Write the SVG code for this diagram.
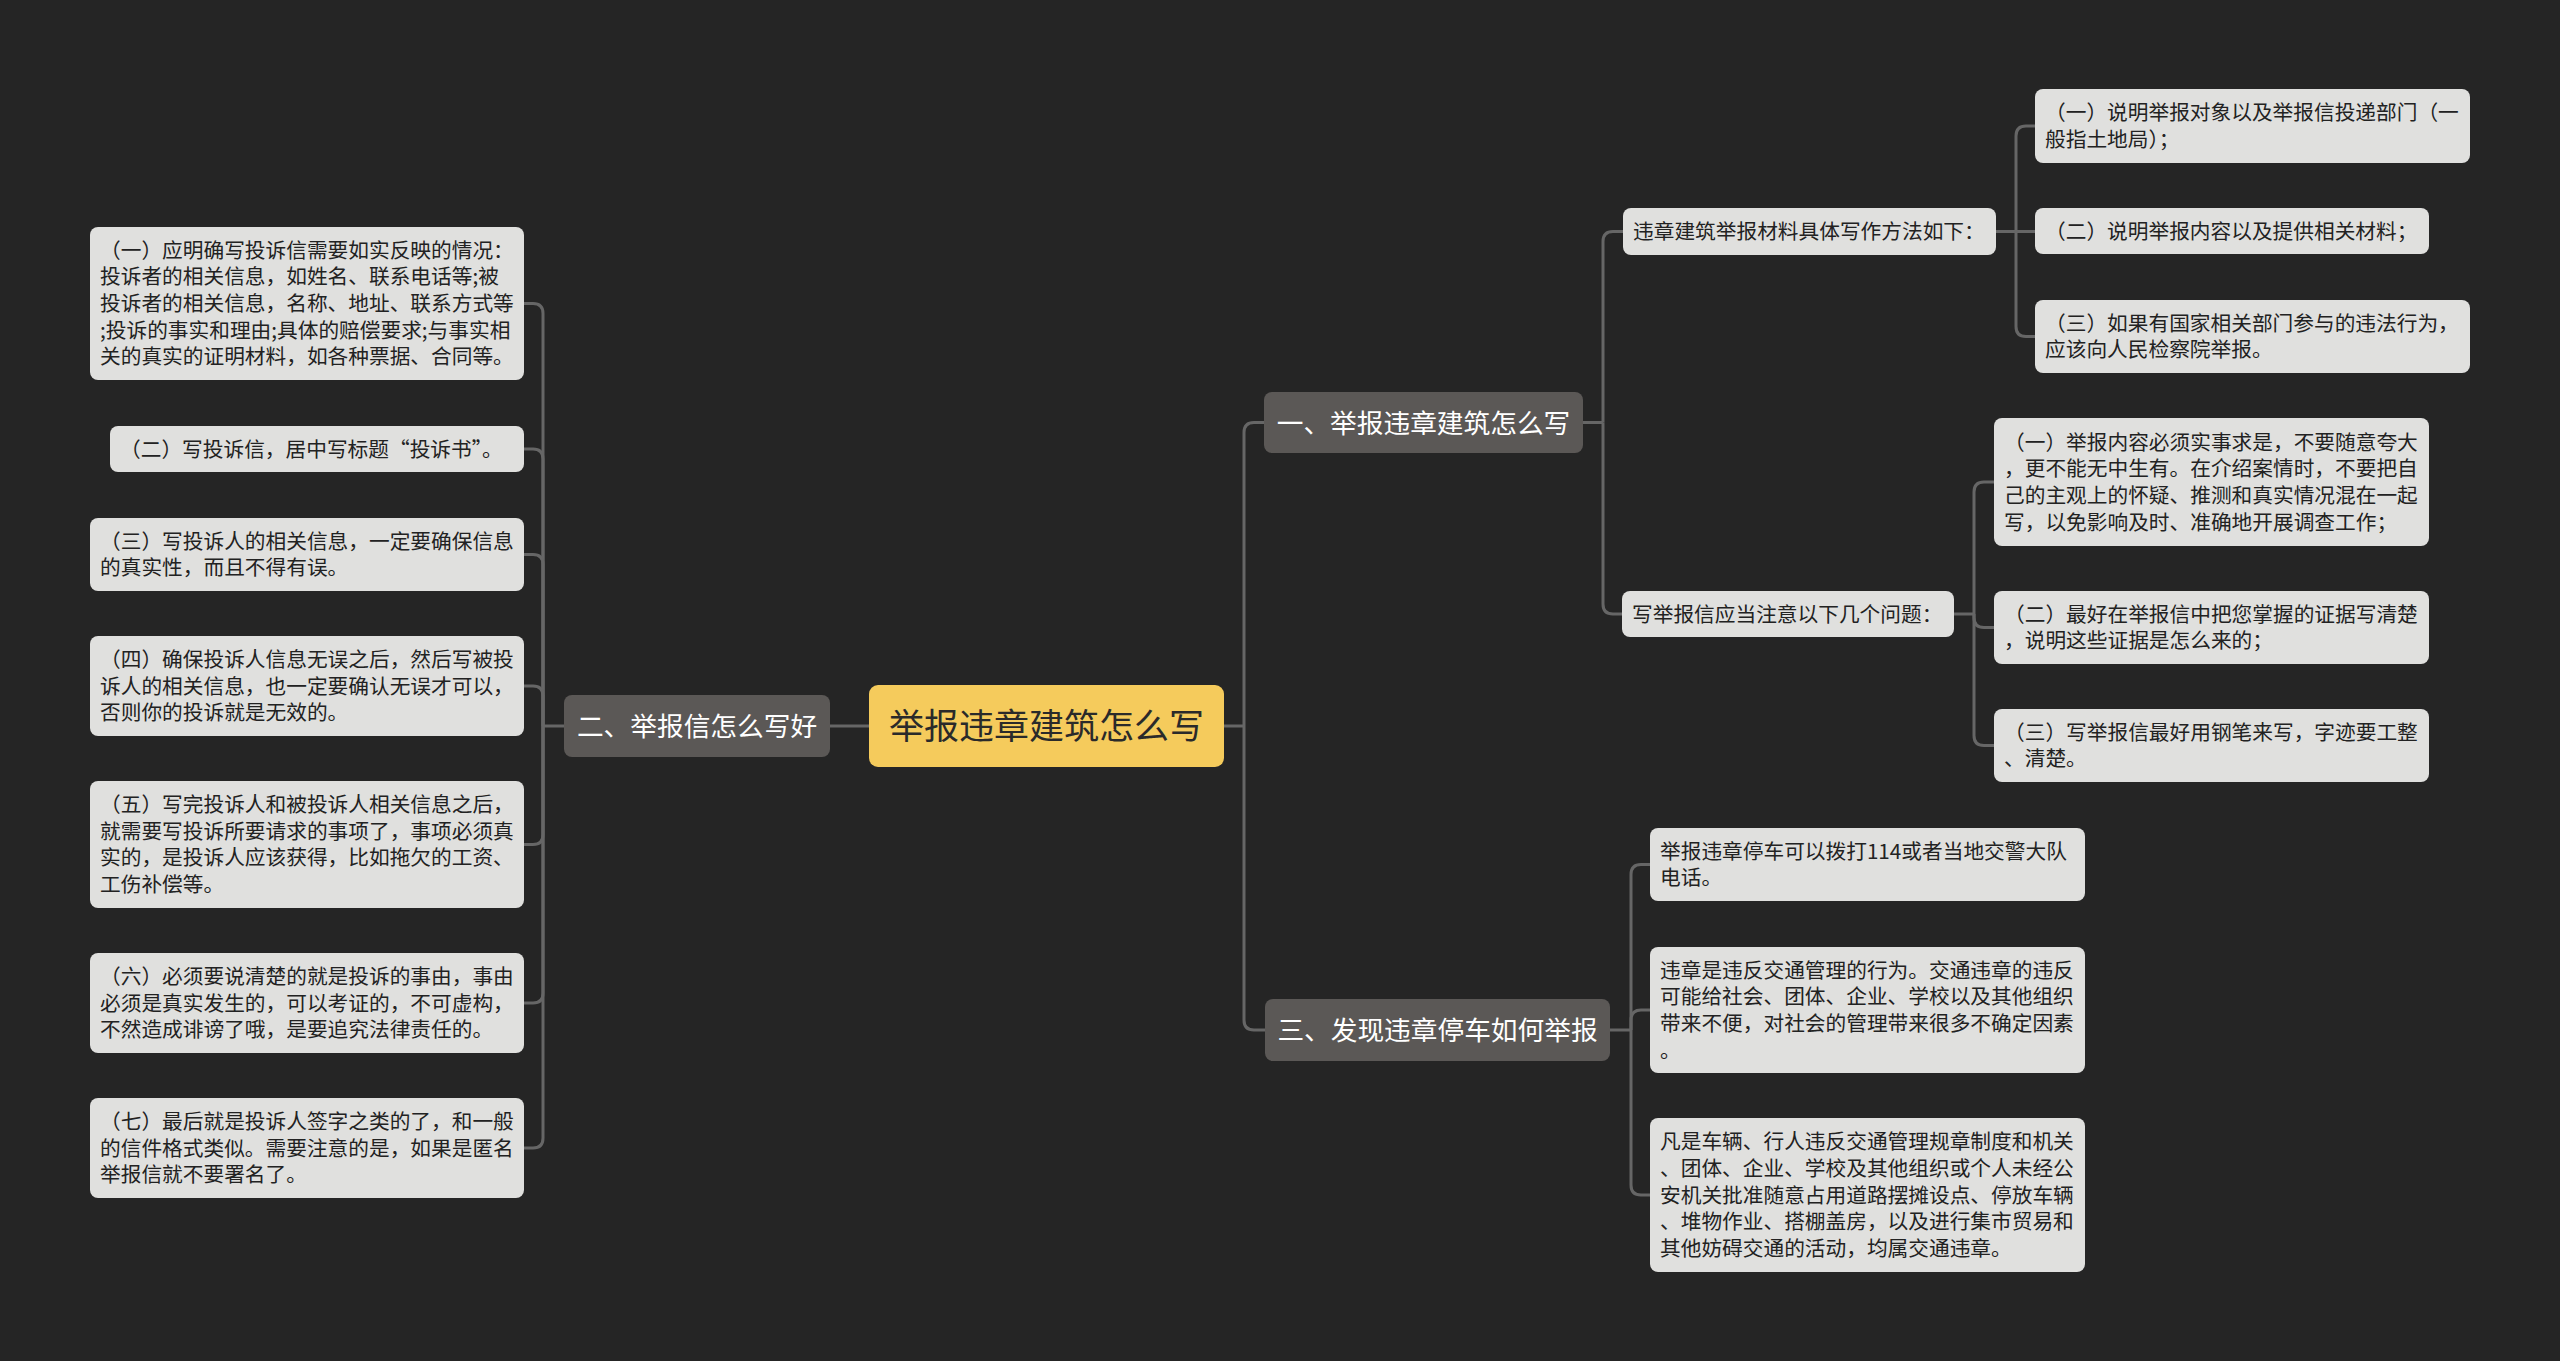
<svg xmlns="http://www.w3.org/2000/svg" width="2560" height="1361" viewBox="0 0 2560 1361">
<style>
.bg{fill:#252525}
.root rect{fill:#f5cb5c}
.root text{fill:#2a2a2a;font-size:35px;text-anchor:middle}
.l1 rect{fill:#5b5856}
.l1 text{fill:#ffffff;font-size:26.7px;text-anchor:middle}
.l2 rect{fill:#e0e0de}
.l2 text{fill:#222222;font-size:20.7px}
text{font-family:"Noto Sans CJK SC","Noto Sans",sans-serif}
.conn path{fill:none;stroke:#666666;stroke-width:3}
</style>
<rect class="bg" x="0" y="0" width="2560" height="1361"/>
<g class="conn">
<path d="M869,726 H830"/>
<path d="M564,726 H543"/>
<path d="M543,726 V313.5 Q543,303.5 533,303.5 H524"/>
<path d="M543,726 V459 Q543,449 533,449 H524"/>
<path d="M543,726 V564.5 Q543,554.5 533,554.5 H524"/>
<path d="M543,726 V696 Q543,686 533,686 H524"/>
<path d="M543,726 V834.5 Q543,844.5 533,844.5 H524"/>
<path d="M543,726 V993 Q543,1003 533,1003 H524"/>
<path d="M543,726 V1138 Q543,1148 533,1148 H524"/>
<path d="M1224,726 H1244"/>
<path d="M1244,726 V432.5 Q1244,422.5 1254,422.5 H1264"/>
<path d="M1244,726 V1020 Q1244,1030 1254,1030 H1265"/>
<path d="M1583,422.5 H1603"/>
<path d="M1603,422.5 V241.5 Q1603,231.5 1613,231.5 H1623"/>
<path d="M1603,422.5 V604 Q1603,614 1613,614 H1622"/>
<path d="M1996,231.5 H2035"/>
<path d="M2016,231.5 V136 Q2016,126 2026,126 H2035"/>
<path d="M2016,231.5 V326.5 Q2016,336.5 2026,336.5 H2035"/>
<path d="M1954,614 H1974"/>
<path d="M1974,614 V492 Q1974,482 1984,482 H1994"/>
<path d="M1974,614 V617.5 Q1974,627.5 1984,627.5 H1994"/>
<path d="M1974,614 V735.5 Q1974,745.5 1984,745.5 H1994"/>
<path d="M1610,1030 H1631"/>
<path d="M1631,1030 V874.5 Q1631,864.5 1641,864.5 H1650"/>
<path d="M1631,1030 V1020 Q1631,1010 1641,1010 H1650"/>
<path d="M1631,1030 V1185 Q1631,1195 1641,1195 H1650"/>
</g>
<g id="root" class="root">
<rect x="869" y="685" width="355" height="82" rx="9"/>
<text x="1046.5" y="739">举报违章建筑怎么写</text>
</g>
<g id="n2" class="l1">
<rect x="564" y="695" width="266" height="62" rx="8"/>
<text x="697" y="736">二、举报信怎么写好</text>
</g>
<g id="n1" class="l1">
<rect x="1264" y="392" width="319" height="61" rx="8"/>
<text x="1423.5" y="432.5">一、举报违章建筑怎么写</text>
</g>
<g id="n3" class="l1">
<rect x="1265" y="999" width="345" height="62" rx="8"/>
<text x="1437.5" y="1040">三、发现违章停车如何举报</text>
</g>
<g id="l2_1" class="l2">
<rect x="90" y="227" width="434" height="153" rx="8"/>
<text x="100" y="257.6"><tspan x="100">（一）应明确写投诉信需要如实反映的情况：</tspan><tspan x="100" y="284.3">投诉者的相关信息，如姓名、联系电话等;被</tspan><tspan x="100" y="311">投诉者的相关信息，名称、地址、联系方式等</tspan><tspan x="100" y="337.7">;投诉的事实和理由;具体的赔偿要求;与事实相</tspan><tspan x="100" y="364.4">关的真实的证明材料，如各种票据、合同等。</tspan></text>
</g>
<g id="l2_2" class="l2">
<rect x="110" y="426" width="414" height="46" rx="8"/>
<text x="120" y="456.5">（二）写投诉信，居中写标题“投诉书”。</text>
</g>
<g id="l2_3" class="l2">
<rect x="90" y="518" width="434" height="73" rx="8"/>
<text x="100" y="548.7"><tspan x="100">（三）写投诉人的相关信息，一定要确保信息</tspan><tspan x="100" y="575.4">的真实性，而且不得有误。</tspan></text>
</g>
<g id="l2_4" class="l2">
<rect x="90" y="636" width="434" height="100" rx="8"/>
<text x="100" y="666.8"><tspan x="100">（四）确保投诉人信息无误之后，然后写被投</tspan><tspan x="100" y="693.5">诉人的相关信息，也一定要确认无误才可以，</tspan><tspan x="100" y="720.2">否则你的投诉就是无效的。</tspan></text>
</g>
<g id="l2_5" class="l2">
<rect x="90" y="781" width="434" height="127" rx="8"/>
<text x="100" y="812"><tspan x="100">（五）写完投诉人和被投诉人相关信息之后，</tspan><tspan x="100" y="838.7">就需要写投诉所要请求的事项了，事项必须真</tspan><tspan x="100" y="865.4">实的，是投诉人应该获得，比如拖欠的工资、</tspan><tspan x="100" y="892.1">工伤补偿等。</tspan></text>
</g>
<g id="l2_6" class="l2">
<rect x="90" y="953" width="434" height="100" rx="8"/>
<text x="100" y="983.8"><tspan x="100">（六）必须要说清楚的就是投诉的事由，事由</tspan><tspan x="100" y="1010.5">必须是真实发生的，可以考证的，不可虚构，</tspan><tspan x="100" y="1037.2">不然造成诽谤了哦，是要追究法律责任的。</tspan></text>
</g>
<g id="l2_7" class="l2">
<rect x="90" y="1098" width="434" height="100" rx="8"/>
<text x="100" y="1128.8"><tspan x="100">（七）最后就是投诉人签字之类的了，和一般</tspan><tspan x="100" y="1155.5">的信件格式类似。需要注意的是，如果是匿名</tspan><tspan x="100" y="1182.2">举报信就不要署名了。</tspan></text>
</g>
<g id="r1a" class="l2">
<rect x="1623" y="208" width="373" height="47" rx="8"/>
<text x="1633" y="239">违章建筑举报材料具体写作方法如下：</text>
</g>
<g id="r1a_1" class="l2">
<rect x="2035" y="89" width="435" height="74" rx="8"/>
<text x="2045" y="120.2"><tspan x="2045">（一）说明举报对象以及举报信投递部门（一</tspan><tspan x="2045" y="146.9">般指土地局）；</tspan></text>
</g>
<g id="r1a_2" class="l2">
<rect x="2035" y="208" width="394" height="46" rx="8"/>
<text x="2045" y="238.5">（二）说明举报内容以及提供相关材料；</text>
</g>
<g id="r1a_3" class="l2">
<rect x="2035" y="300" width="435" height="73" rx="8"/>
<text x="2045" y="330.7"><tspan x="2045">（三）如果有国家相关部门参与的违法行为，</tspan><tspan x="2045" y="357.4">应该向人民检察院举报。</tspan></text>
</g>
<g id="r1b" class="l2">
<rect x="1622" y="591" width="332" height="46" rx="8"/>
<text x="1632" y="621.5">写举报信应当注意以下几个问题：</text>
</g>
<g id="r1b_1" class="l2">
<rect x="1994" y="418" width="435" height="128" rx="8"/>
<text x="2004" y="449.5"><tspan x="2004">（一）举报内容必须实事求是，不要随意夸大</tspan><tspan x="2004" y="476.2">，更不能无中生有。在介绍案情时，不要把自</tspan><tspan x="2004" y="502.9">己的主观上的怀疑、推测和真实情况混在一起</tspan><tspan x="2004" y="529.6">写，以免影响及时、准确地开展调查工作；</tspan></text>
</g>
<g id="r1b_2" class="l2">
<rect x="1994" y="591" width="435" height="73" rx="8"/>
<text x="2004" y="621.7"><tspan x="2004">（二）最好在举报信中把您掌握的证据写清楚</tspan><tspan x="2004" y="648.4">，说明这些证据是怎么来的；</tspan></text>
</g>
<g id="r1b_3" class="l2">
<rect x="1994" y="709" width="435" height="73" rx="8"/>
<text x="2004" y="739.7"><tspan x="2004">（三）写举报信最好用钢笔来写，字迹要工整</tspan><tspan x="2004" y="766.4">、清楚。</tspan></text>
</g>
<g id="r3_1" class="l2">
<rect x="1650" y="828" width="435" height="73" rx="8"/>
<text x="1660" y="858.7"><tspan x="1660">举报违章停车可以拨打114或者当地交警大队</tspan><tspan x="1660" y="885.4">电话。</tspan></text>
</g>
<g id="r3_2" class="l2">
<rect x="1650" y="947" width="435" height="126" rx="8"/>
<text x="1660" y="977.5"><tspan x="1660">违章是违反交通管理的行为。交通违章的违反</tspan><tspan x="1660" y="1004.2">可能给社会、团体、企业、学校以及其他组织</tspan><tspan x="1660" y="1030.9">带来不便，对社会的管理带来很多不确定因素</tspan><tspan x="1660" y="1057.6">。</tspan></text>
</g>
<g id="r3_3" class="l2">
<rect x="1650" y="1118" width="435" height="154" rx="8"/>
<text x="1660" y="1149.1"><tspan x="1660">凡是车辆、行人违反交通管理规章制度和机关</tspan><tspan x="1660" y="1175.8">、团体、企业、学校及其他组织或个人未经公</tspan><tspan x="1660" y="1202.5">安机关批准随意占用道路摆摊设点、停放车辆</tspan><tspan x="1660" y="1229.2">、堆物作业、搭棚盖房，以及进行集市贸易和</tspan><tspan x="1660" y="1255.9">其他妨碍交通的活动，均属交通违章。</tspan></text>
</g>
</svg>
